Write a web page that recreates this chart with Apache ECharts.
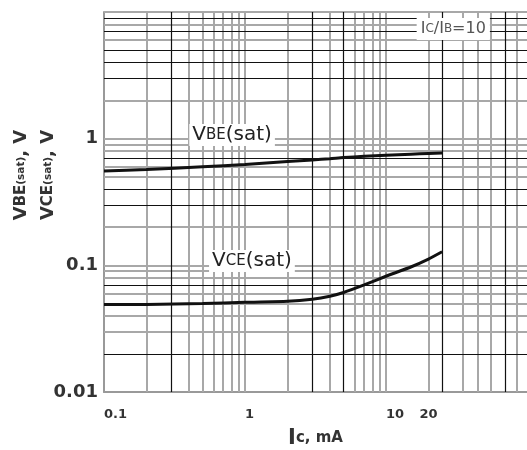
<!DOCTYPE html>
<html>
<head>
<meta charset="utf-8">
<script src="https://cdn.jsdelivr.net/npm/echarts@6.0.0/dist/echarts.min.js"></script>
<style>
  html, body { margin: 0; padding: 0; background: #fff; }
  #chart { width: 527px; height: 450px; }
</style>
</head>
<body>
<div id="chart"></div>
<script>
// collector current, mA
const icValues = [0.1, 0.2, 0.5, 1, 2, 3, 4, 5, 7, 10, 15, 20, 25];
// saturation voltages, V
const vbeSat = [0.555, 0.57, 0.6, 0.625, 0.66, 0.68, 0.695, 0.71, 0.725, 0.74, 0.755, 0.765, 0.77];
const vceSat = [0.049, 0.049, 0.05, 0.051, 0.052, 0.054, 0.057, 0.061, 0.07, 0.082, 0.097, 0.112, 0.128];

const xTickLabels = [0.1, 1, 10];
const xExtraLabels = [20];
const yTickLabels = [0.01, 0.1, 1];

// grid lines of the datasheet paper
const xGridDark = [0.3, 3, 5, 25, 70];
const xGridLight = [0.2, 0.4, 0.5, 0.6, 0.7, 0.8, 0.9, 1, 2, 4, 6, 7, 8, 9, 10, 20, 35, 45, 55, 85];
const yGridDark = [0.02, 0.07, 0.3, 0.4, 0.7, 3, 4, 5, 7, 9];
const yGridLight = [0.03, 0.04, 0.05, 0.06, 0.08, 0.09, 0.1, 0.2, 0.5, 0.6, 0.8, 0.9, 1, 2, 6, 8, 10];

const FONT = "'DejaVu Sans', Verdana, sans-serif";
const DARK = { color: "#111", width: 1.2, type: "solid" };
const LIGHT = { color: "#a8a8a8", width: 2, type: "solid" };

const gridLines = [
  ...xGridLight.map((v) => ({ xAxis: v, lineStyle: LIGHT })),
  ...yGridLight.map((v) => ({ yAxis: v, lineStyle: LIGHT })),
  ...xGridDark.map((v) => ({ xAxis: v, lineStyle: DARK })),
  ...yGridDark.map((v) => ({ yAxis: v, lineStyle: DARK })),
];

const fmt = (v) => String(Number(v.toPrecision(3)));

const xAxisBase = {
  type: "log",
  logBase: 10,
  min: 0.1,
  max: 100,
  axisTick: { show: false },
  splitLine: { show: false },
  minorSplitLine: { show: false },
};

const xLabelStyle = {
  formatter: fmt,
  margin: 16,
  fontSize: 13,
  fontWeight: "bold",
  color: "#333",
  fontFamily: FONT,
};

const curveLabel = (sub) => ({
  show: true,
  position: "inside",
  formatter: "{v|V}{s|" + sub + "}{v|(sat)}",
  backgroundColor: "#fff",
  padding: [1, 3],
  rich: {
    v: { fontSize: 20, color: "#222", fontFamily: FONT },
    s: { fontSize: 15, color: "#222", fontFamily: FONT },
  },
});

const chart = echarts.init(document.getElementById("chart"));

chart.setOption({
  animation: false,
  backgroundColor: "#fff",
  grid: { left: 104, right: 0, top: 12, bottom: 58, containLabel: false, outerBoundsMode: "none" },
  xAxis: [
    {
      ...xAxisBase,
      name: "{i|I}{c|c, mA}",
      nameLocation: "middle",
      nameGap: 36,
      nameMoveOverlap: false,
      nameTextStyle: {
        rich: {
          i: { fontSize: 21, fontWeight: "bold", color: "#333", fontFamily: FONT },
          c: { fontSize: 15, fontWeight: "bold", color: "#333", fontFamily: FONT },
        },
      },
      axisLine: { show: true, lineStyle: { color: "#999", width: 2 } },
      axisLabel: { ...xLabelStyle, customValues: xTickLabels, align: "left" },
    },
    {
      ...xAxisBase,
      position: "bottom",
      axisLine: { show: false },
      axisLabel: { ...xLabelStyle, customValues: xExtraLabels, align: "center" },
    },
  ],
  yAxis: {
    type: "log",
    logBase: 10,
    min: 0.01,
    max: 10,
    name: "{a|V}{b|BE}{c|(sat)}{a|, V}\n{a|V}{b|CE}{c|(sat)}{a|, V}",
    nameLocation: "middle",
    nameRotate: 90,
    nameGap: 42,
    nameMoveOverlap: false,
    nameTextStyle: {
      lineHeight: 27,
      padding: [0, 0, 0, 54],
      rich: {
        a: { fontSize: 18, fontWeight: "bold", color: "#333", fontFamily: FONT, lineHeight: 27 },
        b: { fontSize: 15, fontWeight: "bold", color: "#333", fontFamily: FONT, lineHeight: 27 },
        c: { fontSize: 10.5, fontWeight: "bold", color: "#333", fontFamily: FONT, lineHeight: 27 },
      },
    },
    axisLine: { show: true, lineStyle: { color: "#999", width: 2 } },
    axisTick: { show: false },
    splitLine: { show: false },
    minorSplitLine: { show: false },
    axisLabel: {
      customValues: yTickLabels,
      formatter: fmt,
      margin: 6,
      fontSize: 18,
      fontWeight: "bold",
      color: "#333",
      fontFamily: FONT,
    },
  },
  series: [
    {
      name: "grid",
      type: "line",
      data: [],
      z: 1,
      silent: true,
      markLine: {
        silent: true,
        symbol: ["none", "none"],
        label: { show: false },
        emphasis: { disabled: true },
        data: gridLines,
      },
      markPoint: {
        symbol: "rect",
        symbolSize: 1,
        itemStyle: { color: "rgba(0,0,0,0)" },
        data: [{ coord: [30, 7.35], value: "ratio" }],
        label: {
          show: true,
          position: "inside",
          formatter: "{i|I}{s|C}{i|/I}{s|B}{i|=10}",
          backgroundColor: "#fff",
          padding: [3, 4],
          rich: {
            i: { fontSize: 16, color: "#555", fontFamily: FONT },
            s: { fontSize: 12, color: "#555", fontFamily: FONT },
          },
        },
      },
    },
    {
      name: "VBE(sat)",
      type: "line",
      data: icValues.map((x, i) => [x, vbeSat[i]]),
      showSymbol: false,
      smooth: 0.2,
      z: 5,
      lineStyle: { color: "#111", width: 3 },
      markPoint: {
        symbol: "rect",
        symbolSize: 1,
        itemStyle: { color: "rgba(0,0,0,0)" },
        data: [{ coord: [0.81, 1.07], value: "VBE" }],
        label: curveLabel("BE"),
      },
    },
    {
      name: "VCE(sat)",
      type: "line",
      data: icValues.map((x, i) => [x, vceSat[i]]),
      showSymbol: false,
      smooth: 0.15,
      z: 5,
      lineStyle: { color: "#111", width: 3 },
      markPoint: {
        symbol: "rect",
        symbolSize: 1,
        itemStyle: { color: "rgba(0,0,0,0)" },
        data: [{ coord: [1.12, 0.108], value: "VCE" }],
        label: curveLabel("CE"),
      },
    },
  ],
});
</script>
</body>
</html>
